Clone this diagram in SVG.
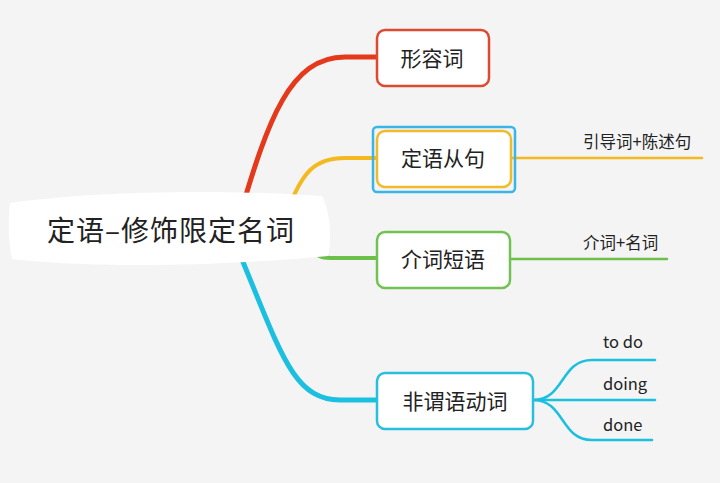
<svg xmlns="http://www.w3.org/2000/svg" width="720" height="483" viewBox="0 0 720 483">
<style>
.t{font-family:"Noto Sans CJK SC","Noto Sans",sans-serif;fill:#222;}
.n{font-size:21px;text-anchor:middle;}
.s{font-size:16.5px;}
.b{fill:none;stroke-linecap:round;}
.box{fill:#fff;stroke-width:2.5;}
</style>
<rect width="720" height="483" fill="#f4f4f4"/>
<g id="connectors">
<path class="b" d="M240,215 C268,120 290,57 345,57 L378,57" stroke="#e5391c" stroke-width="5"/>
<path class="b" d="M288,210 C302,172 315,158 345,158 L377,158" stroke="#f4b91e" stroke-width="4"/>
<path class="b" d="M312,250 C318,258 325,258 335,258 L378,258" stroke="#6cc04a" stroke-width="4"/>
<path class="b" d="M238,250 C280,350 292,400 340,400 L378,400" stroke="#1bbfe0" stroke-width="5"/>
<path class="b" d="M512,158 L702,158" stroke="#f4b91e" stroke-width="2.5"/>
<path class="b" d="M510,259 L667,259" stroke="#6cc04a" stroke-width="2.5"/>
<path class="b" d="M533,400 C565,400 560,360 592,360 L655,360" stroke="#1bbfe0" stroke-width="2.5"/>
<path class="b" d="M533,400 L655,400" stroke="#1bbfe0" stroke-width="2.5"/>
<path class="b" d="M533,400 C565,400 560,440 592,440 L652,440" stroke="#1bbfe0" stroke-width="2.5"/>
</g>
<g id="center">
<path d="M10,203 C80,193 200,188 322,196 C330,210 332,240 328,256 C200,268 80,267 12,259 C8,240 8,220 10,203 Z" fill="#fff"/>
<text class="t" x="47" y="241" font-size="28" letter-spacing="1">定语–修饰限定名词</text>
</g>
<g id="n1">
<rect class="box" x="377" y="30" width="112" height="56" rx="8" stroke="#dc4a30"/>
<text class="t n" x="432" y="66">形容词</text>
</g>
<g id="n2">
<rect x="373" y="127" width="142" height="65" rx="4" fill="none" stroke="#3ab5e8" stroke-width="2.5"/>
<rect class="box" x="377" y="131" width="134" height="56" rx="8" stroke="#f0bb2a"/>
<text class="t n" x="443" y="166">定语从句</text>
</g>
<g id="n2a"><text class="t s" x="583" y="148">引导词+陈述句</text></g>
<g id="n3">
<rect class="box" x="377" y="232" width="133" height="56" rx="8" stroke="#72c253"/>
<text class="t n" x="443" y="267">介词短语</text>
</g>
<g id="n3a"><text class="t s" x="583" y="249">介词+名词</text></g>
<g id="n4">
<rect class="box" x="377" y="373" width="156" height="56" rx="8" stroke="#28bedc"/>
<text class="t n" x="455" y="409">非谓语动词</text>
</g>
<g id="n4a"><text class="t s" x="603" y="348">to do</text></g>
<g id="n4b"><text class="t s" x="603" y="390">doing</text></g>
<g id="n4c"><text class="t s" x="603" y="431">done</text></g>
</svg>
